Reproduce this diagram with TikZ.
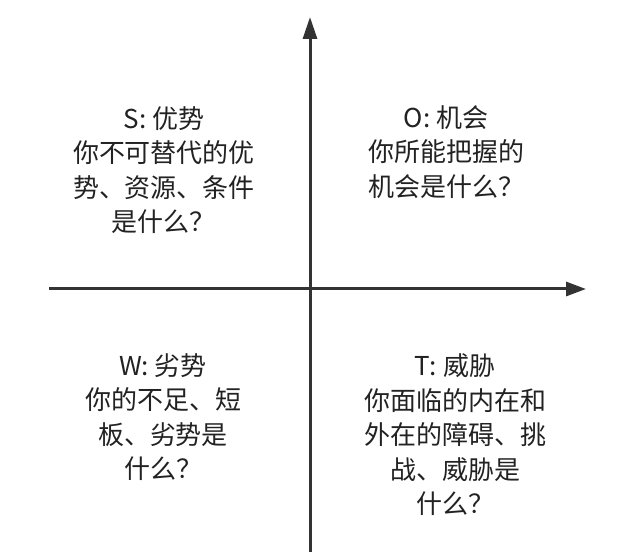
\documentclass[tikz,border=0pt]{standalone}
\usepackage{fontspec}
\setmainfont{Noto Sans CJK SC}
\usetikzlibrary{arrows.meta}
\definecolor{axiscol}{HTML}{333333}
\definecolor{txtcol}{HTML}{222222}
\tikzset{
  axisline/.style={draw=axiscol, line width=3pt},
  vtip/.style={-{Triangle[length=22pt,width=14pt]}},
  htip/.style={-{Triangle[length=20pt,width=14pt]}},
  quadtext/.style={align=center, text=txtcol, inner sep=0pt,
    font=\fontsize{26pt}{34.5pt}\selectfont},
}
\begin{document}
\begin{tikzpicture}[x=1pt,y=-1pt]
\useasboundingbox (0,0) rectangle (641,559);
\coordinate (vbot) at (310,552);
\coordinate (vtop) at (310,17);
\coordinate (hleft) at (49,289);
\coordinate (hright) at (586,289);
\draw[axisline,vtip] (vbot) -- (vtop);
\draw[axisline,htip] (hleft) -- (hright);
\node[quadtext] (S) at (164,170) {S: 优势\\你不可替代的优\\势、资源、条件\\是什么？};
\node[quadtext] (O) at (446,152) {O: 机会\\你所能把握的\\机会是什么？};
\node[quadtext] (W) at (163,417) {W: 劣势\\你的不足、短\\板、劣势是\\什么？};
\node[quadtext] (T) at (455,435) {T: 威胁\\你面临的内在和\\外在的障碍、挑\\战、威胁是\\什么？};
\end{tikzpicture}
\end{document}
